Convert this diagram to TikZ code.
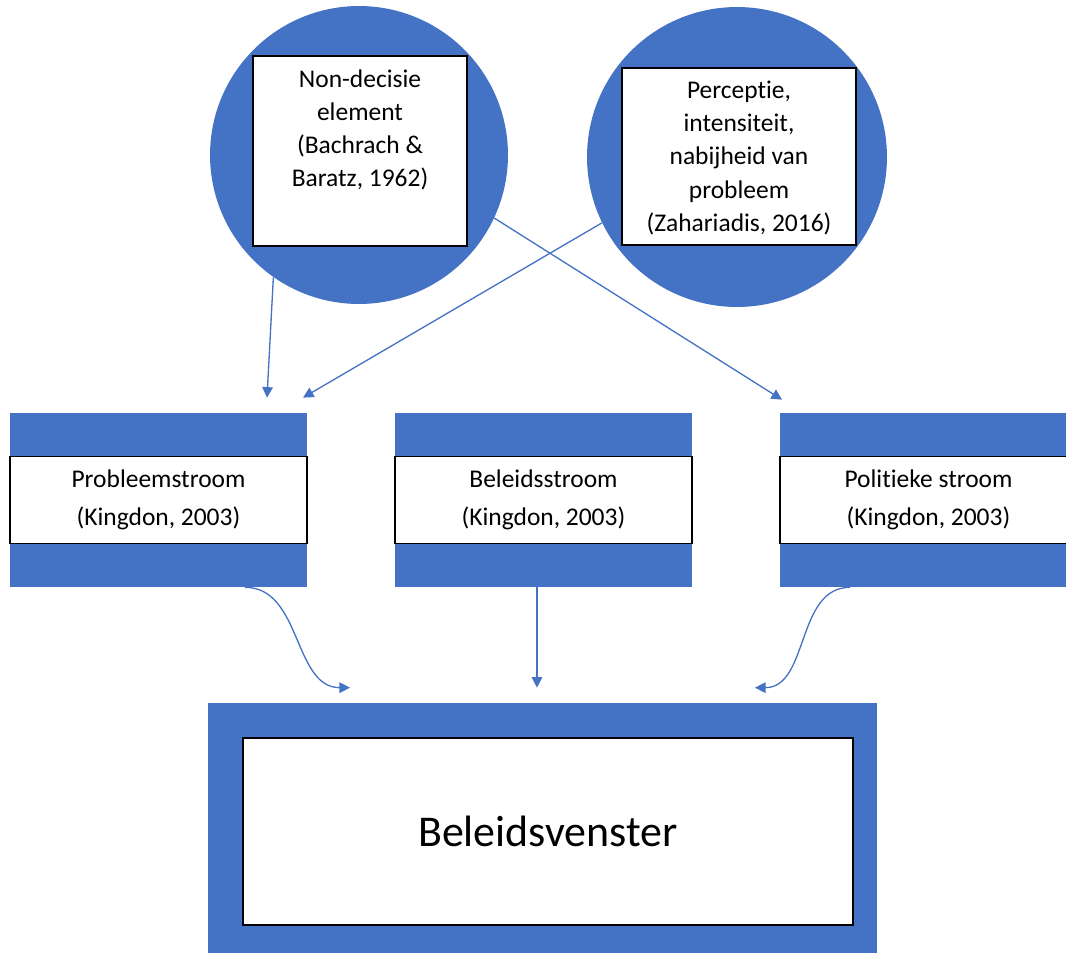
\documentclass[tikz,border=0pt]{standalone}
\usepackage{fontspec}
\setmainfont[Ligatures=NoCommon]{Carlito}
\usetikzlibrary{arrows.meta, positioning, calc}
\definecolor{officeblue}{HTML}{4472C4}

\begin{document}
\begin{tikzpicture}[
    x=0.02cm, y=-0.02cm,
    % Styles
    bluecircle/.style={circle, fill=officeblue, minimum size=6cm, inner sep=0pt},
    circlebox/.style={draw=black, line width=0.8pt, fill=white, inner sep=0pt},
    circletext/.style={font=\fontsize{14.5}{18.8}\selectfont, align=center, inner sep=0pt},
    streamouter/.style={fill=officeblue, minimum width=5.94cm, minimum height=3.48cm, inner sep=0pt},
    streamband/.style={draw=black, line width=0.8pt, fill=white, minimum width=5.94cm, minimum height=1.74cm,
                       inner sep=0pt, align=center, font=\fontsize{14.5}{22}\selectfont},
    flow/.style={officeblue, line width=0.75pt, -{Triangle[length=6pt, width=6pt]}}
]
    % Frame of the picture
    \useasboundingbox (0,0) rectangle (1066,953);
    \clip (0,0) rectangle (1066,953);

    % Non-decisie circle
    \node[bluecircle, minimum size=5.96cm] (nondec) at (359,155) {};
    \node[circlebox, minimum width=4.28cm, minimum height=3.8cm] (nondecbox) at (360,151) {};
    \node[circletext] (nondectext) at (360,130) {Non-decisie\\element\\(Bachrach \&\\Baratz, 1962)};

    % Perceptie circle
    \node[bluecircle] (percep) at (737,157) {};
    \node[circlebox, minimum width=4.68cm, minimum height=3.54cm] (percepbox) at (739,156.5) {};
    \node[circletext] (perceptext) at (739,158) {Perceptie,\\intensiteit,\\nabijheid van\\probleem\\(Zahariadis, 2016)};

    % Streams (Kingdon)
    \node[streamouter] (probleem) at (158.5,500) {};
    \node[streamband] (probleemtxt) at (probleem) {Probleemstroom\\(Kingdon, 2003)};

    \node[streamouter] (beleid) at (543.5,500) {};
    \node[streamband] (beleidtxt) at (beleid) {Beleidsstroom\\(Kingdon, 2003)};

    \node[streamouter] (politiek) at (928.5,500) {};
    \node[streamband] (politiektxt) at (politiek) {Politieke stroom\\(Kingdon, 2003)};

    % Beleidsvenster
    \node[fill=officeblue, minimum width=13.38cm, minimum height=5.14cm, inner sep=0pt] (venster) at (542.5,831.5) {};
    \node[draw=black, line width=0.8pt, fill=white, minimum width=12.2cm, minimum height=3.74cm,
          font=\fontsize{25}{30}\selectfont] (venstertxt) at (548,831.5) {Beleidsvenster};

    % Arrows from the circles to the streams
    \draw[flow] (nondec.235.6) -- ($(probleem.north)+(108.5,-15)$);
    \draw[flow] (percep.206.1) -- ($(probleem.north)+(144.5,-15)$);
    \draw[flow] (nondec.335.6) -- ($(politiek.north)+(-146.5,-13)$);

    % Arrows from the streams to the window
    \draw[flow] ($(probleem.south)+(86.5,0)$) to[out=0, in=180] ($(venster.north)+(-192.5,-15)$);
    \draw[flow] ($(beleid.south)+(-6.5,0)$) -- ($(venster.north)+(-5.5,-15)$);
    \draw[flow] ($(politiek.south)+(-78.5,0)$) to[out=180, in=0] ($(venster.north)+(212.5,-15)$);
\end{tikzpicture}
\end{document}
